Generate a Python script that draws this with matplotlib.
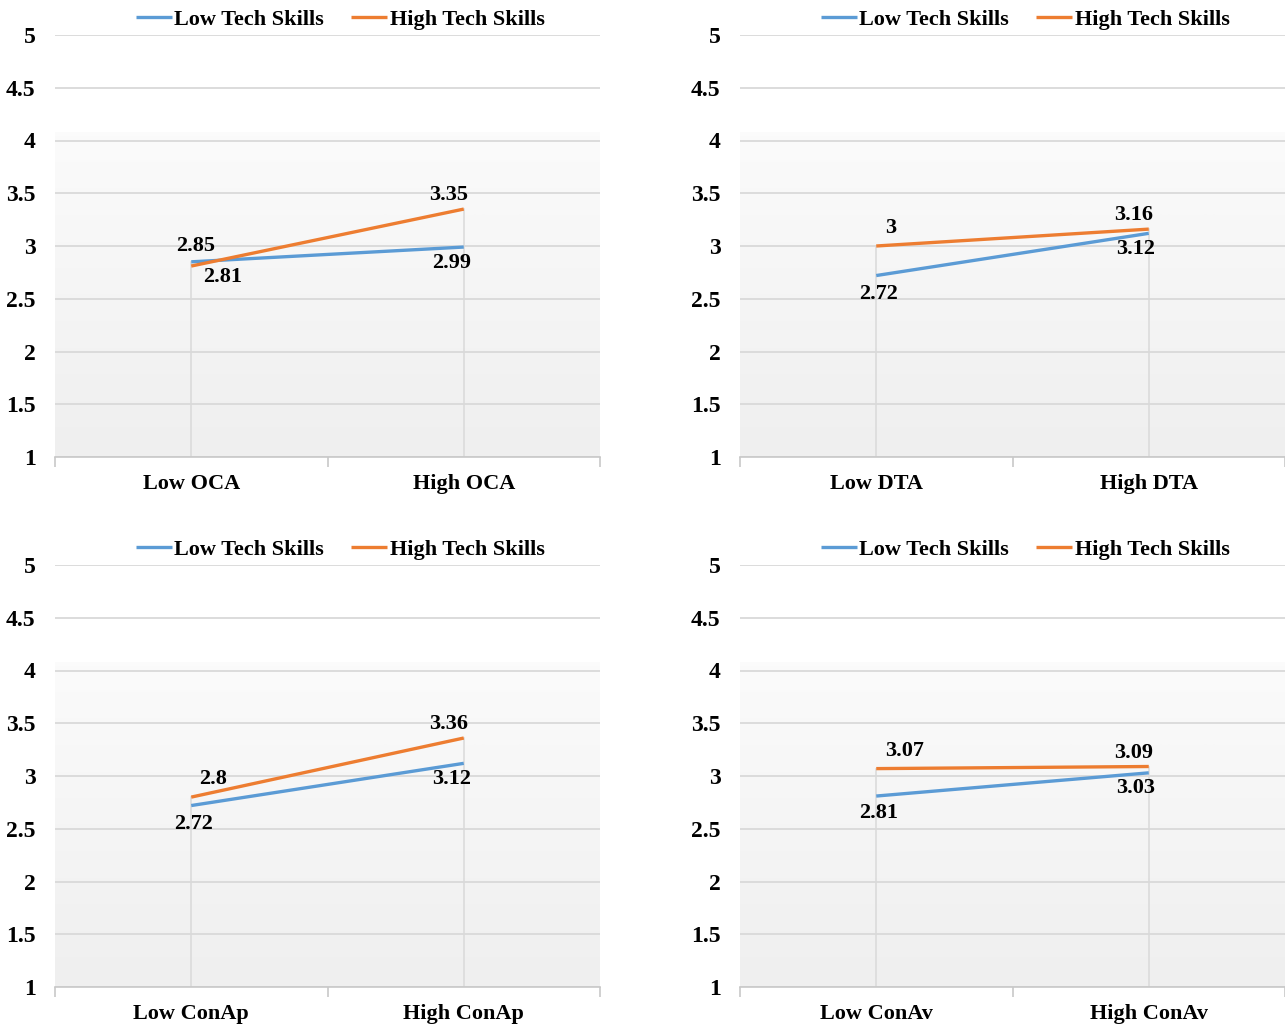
import matplotlib.pyplot as plt
import numpy as np
from matplotlib.colors import LinearSegmentedColormap

plt.rcParams["font.family"] = ["Liberation Serif", "DejaVu Serif"]
plt.rcParams["font.weight"] = "bold"

# two groups on the x axis, two tech-skill series per panel
series_names = ["Low Tech Skills", "High Tech Skills"]
oca_labels = ["Low OCA", "High OCA"]
oca_low = [2.85, 2.99]
oca_high = [2.81, 3.35]
dta_labels = ["Low DTA", "High DTA"]
dta_low = [2.72, 3.12]
dta_high = [3.00, 3.16]
conap_labels = ["Low ConAp", "High ConAp"]
conap_low = [2.72, 3.12]
conap_high = [2.80, 3.36]
conav_labels = ["Low ConAv", "High ConAv"]
conav_low = [2.81, 3.03]
conav_high = [3.07, 3.09]

BLUE = "#5b9bd5"
ORANGE = "#ed7d31"
GRID = "#d9d9d9"
FS = 16

# label offsets in pixels: (low series, high series) for each x position
panels = [
    (oca_labels, oca_low, oca_high,
     [[(4, 16), (-12, -16)], [(31, -11), (-15, 14)]]),
    (dta_labels, dta_low, dta_high,
     [[(2, -18), (-13, -16)], [(14, 18), (-15, 14)]]),
    (conap_labels, conap_low, conap_high,
     [[(2, -18), (-12, -16)], [(22, 18), (-15, 14)]]),
    (conav_labels, conav_low, conav_high,
     [[(2, -17), (-13, -15)], [(28, 18), (-15, 14)]]),
]

W, H = 1285, 1025
fig = plt.figure(figsize=(W / 100, H / 100), dpi=100)
boxes = [(55, 35), (740, 35), (55, 565), (740, 565)]
grad = LinearSegmentedColormap.from_list("bg", ["#efefef", "#fbfbfb"])

for (px, py), (cats, low, high, offs) in zip(boxes, panels):
    ax = fig.add_axes([px / W, 1 - (py + 422) / H, 545 / W, 422 / H])
    xs = np.array([0.5, 1.5])
    ax.set_xlim(0, 2)
    ax.set_ylim(1, 5)

    ax.imshow(np.linspace(1, 0, 64).reshape(-1, 1), cmap=grad, aspect="auto",
              extent=[0, 2, 1, 4.08], zorder=0, interpolation="bilinear")

    for v in np.arange(1, 5.01, 0.5):
        ax.axhline(v, color=GRID, lw=1.3, zorder=1)
    for x, a, b in zip(xs, low, high):
        ax.plot([x, x], [1, max(a, b)], color=GRID, lw=1.1, zorder=1)

    ax.plot(xs, low, color=BLUE, lw=2.4, solid_capstyle="butt", zorder=3,
            label=series_names[0])
    ax.plot(xs, high, color=ORANGE, lw=2.4, solid_capstyle="butt", zorder=3,
            label=series_names[1])

    for vals, so in zip([low, high], offs):
        for x, v, o in zip(xs, vals, so):
            ax.annotate(f"{v:g}", (x, v), xytext=o, textcoords="offset pixels",
                        ha="center", va="center", fontsize=FS,
                        fontweight="bold", zorder=4)

    for s in ["top", "right", "left"]:
        ax.spines[s].set_visible(False)
    ax.spines["bottom"].set_color("#c8c8c8")
    ax.spines["bottom"].set_linewidth(1.2)

    ax.set_yticks(np.arange(1, 5.01, 0.5))
    ax.set_yticklabels([f"{v:g}" for v in np.arange(1, 5.01, 0.5)])
    ax.tick_params(axis="y", length=0, pad=14, labelsize=17)
    ax.set_xticks([0, 1, 2])
    ax.set_xticklabels([])
    ax.tick_params(axis="x", which="major", length=7, color="#c8c8c8",
                   width=1.2, direction="out")
    ax.set_xticks(xs, minor=True)
    ax.set_xticklabels(cats, minor=True, fontsize=FS, fontweight="bold")
    ax.tick_params(axis="x", which="minor", length=0, pad=12)

    ax.legend(loc="center", bbox_to_anchor=(0.523, 1.036), ncol=2,
              frameon=False, fontsize=FS, handlelength=1.65,
              handletextpad=0.1, columnspacing=1.2, borderpad=0,
              borderaxespad=0)

fig.savefig("out.png", dpi=100)
